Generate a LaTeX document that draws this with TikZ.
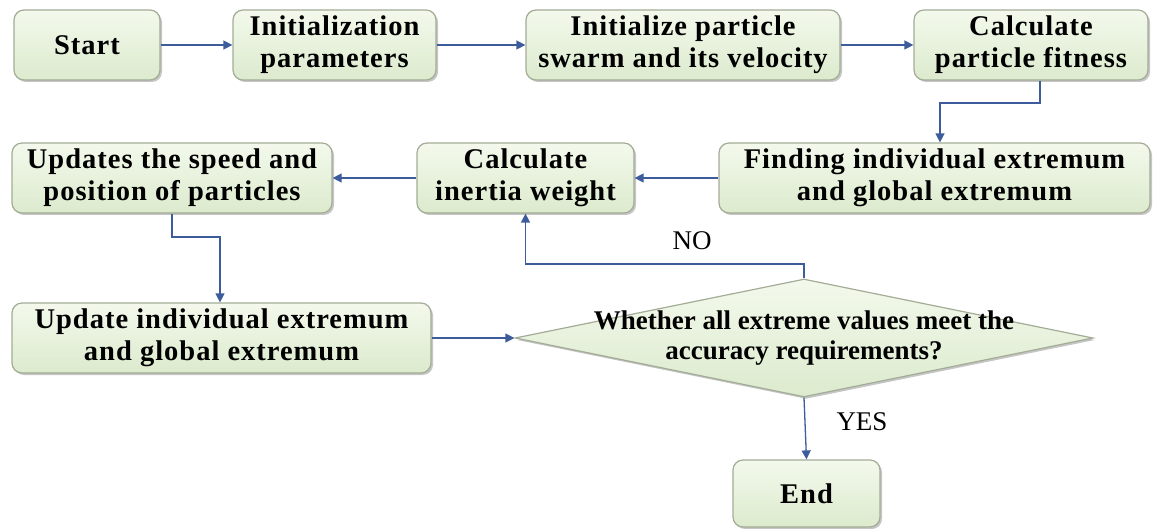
\documentclass[tikz,border=0pt]{standalone}
\usepackage{fontspec}
\setmainfont{Liberation Serif}
\newfontfamily\boxfont{Liberation Serif}[LetterSpace=3.5]
\usetikzlibrary{arrows.meta,shapes.geometric,shadows}
\definecolor{boxtop}{HTML}{F3F9EC}
\definecolor{boxbot}{HTML}{DCEACD}
\definecolor{boxline}{HTML}{A3AC96}
\definecolor{flow}{HTML}{3C5C9C}
\tikzset{
  x=1pt, y=1pt,
  stepbox/.style={draw=boxline, line width=1.2pt, rounded corners=10pt,
    top color=boxtop, bottom color=boxbot,
    drop shadow={shadow xshift=2pt, shadow yshift=-2pt, opacity=0.45},
    font=\boxfont\bfseries\fontsize{28.5}{32}\selectfont, align=center, inner sep=0pt},
  decision/.style={shape=diamond, draw=boxline, line width=1.2pt,
    top color=boxtop, bottom color=boxbot,
    drop shadow={shadow xshift=2pt, shadow yshift=-2pt, opacity=0.45},
    inner sep=0pt},
  dectext/.style={font=\bfseries\fontsize{27}{30}\selectfont, align=center},
  flowline/.style={draw=flow, line width=1.3pt, -{Triangle[length=9pt,width=9pt]}},
  tag/.style={font=\fontsize{27}{30}\selectfont}
}
\begin{document}
\begin{tikzpicture}
\useasboundingbox (0,0) rectangle (1165,-529);
% first row
\node[stepbox, minimum width=146pt, minimum height=70pt] (start) at (87,-45) {Start};
\node[stepbox, minimum width=203pt, minimum height=70pt] (init) at (334.5,-45) {Initialization\\parameters};
\node[stepbox, minimum width=314pt, minimum height=70pt] (swarm) at (683,-45) {Initialize particle\\swarm and its velocity};
\node[stepbox, minimum width=234pt, minimum height=70pt] (fit) at (1031,-45) {Calculate\\particle fitness};
% second row
\node[stepbox, minimum width=431pt, minimum height=70pt] (find) at (934.5,-178) {Finding individual extremum\\and global extremum};
\node[stepbox, minimum width=217pt, minimum height=70pt] (inertia) at (525.5,-178) {Calculate\\inertia weight};
\node[stepbox, minimum width=320pt, minimum height=70pt] (speed) at (172,-178) {Updates the speed and\\position of particles};
% third row
\node[stepbox, minimum width=419pt, minimum height=70pt] (upd) at (221.5,-338) {Update individual extremum\\and global extremum};
\node[decision, minimum width=578pt, minimum height=118pt,
  label={[dectext]center:{Whether all extreme values meet the\\accuracy requirements?}}] (dec) at (804,-338) {};
\node[stepbox, minimum width=147pt, minimum height=67pt] (end) at (806.5,-493.5) {End};
% connectors
\draw[flowline] (start) -- (init);
\draw[flowline] (init) -- (swarm);
\draw[flowline] (swarm) -- (fit);
\coordinate (fitA) at (1040,-103);
\coordinate (fitB) at (940,-103);
\draw[flowline] (fit.south -| fitA) -- (fitA) -- (fitB) -- (fitB |- find.north);
\draw[flowline] (find) -- (inertia);
\draw[flowline] (inertia) -- (speed);
\coordinate (spA) at (172,-237);
\coordinate (spB) at (220,-237);
\draw[flowline] (speed.south) -- (spA) -- (spB) -- (spB |- upd.north);
\draw[flowline] (upd.east) -- (dec.west);
\coordinate (noA) at (804,-264);
\coordinate (noB) at (525.5,-264);
\draw[flowline] (dec.north) -- (noA) -- (noB) -- (inertia.south);
\draw[flowline] (dec.south) -- (end.north);
\node[tag] (no) at (692,-241) {NO};
\node[tag] (yes) at (862,-422) {YES};
\end{tikzpicture}
\end{document}
